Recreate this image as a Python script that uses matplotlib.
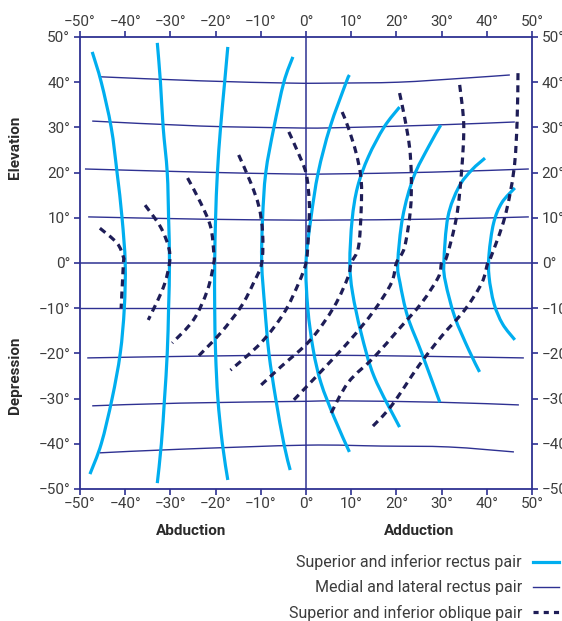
import matplotlib
matplotlib.use("Agg")
import numpy as np
import matplotlib.pyplot as plt
from matplotlib.lines import Line2D
from matplotlib.path import Path
from matplotlib.patches import PathPatch

# superior / inferior rectus pair (x = horizontal gaze, y = vertical gaze, degrees)
rectus_si = [
    [(-47.3, 46.7), (-45.3, 40), (-43.1, 30), (-41.8, 20), (-40.7, 10), (-40.0, 0),
     (-40.2, -10), (-41.1, -20), (-42.9, -30), (-45.3, -40), (-47.8, -46.7)],
    [(-32.9, 48.7), (-32.2, 40), (-31.6, 30), (-30.7, 20), (-30.4, 10), (-30.2, 0),
     (-30.4, -10), (-30.7, -20), (-31.3, -30), (-32.0, -40), (-32.9, -48.7)],
    [(-17.3, 47.8), (-18.0, 40), (-18.9, 30), (-19.6, 20), (-20.0, 10), (-20.2, 0),
     (-20.2, -10), (-20.0, -20), (-19.5, -30), (-18.5, -40), (-17.3, -48.0)],
    [(-2.9, 45.6), (-4.9, 40), (-7.1, 30), (-8.9, 20), (-9.6, 10), (-9.8, 0),
     (-9.1, -10), (-8.2, -20), (-6.7, -30), (-4.9, -40), (-3.5, -45.8)],
    [(9.6, 41.6), (8.9, 40), (5.3, 30), (2.7, 20), (1.1, 10), (0.0, 0),
     (0.4, -10), (1.6, -19.2), (3.3, -26.5), (6.2, -34.1), (9.6, -41.8)],
    [(20.7, 34.5), (17.3, 30.1), (13.8, 23.5), (11.4, 16.8), (10.2, 9.5), (9.7, 0),
     (10.3, -6.6), (12.2, -15.5), (15.1, -25.2), (20.7, -36.3)],
    [(29.8, 30.5), (27.1, 25.7), (23.8, 19.0), (21.4, 10.2), (20.3, 0),
     (20.8, -4.4), (22.5, -11.9), (25.6, -19.9), (29.6, -30.8)],
    [(39.6, 23.2), (36.7, 20.6), (33.8, 16.8), (31.4, 10.2), (30.5, 0),
     (30.9, -4.4), (32.9, -11.9), (36.0, -19.2), (38.4, -24.1)],
    [(46.2, 16.6), (43.3, 13.3), (41.5, 8.8), (40.5, 2.0), (40.5, -3.0),
     (41.6, -9.0), (43.5, -13.5), (46.2, -17.0)],
]

# medial / lateral rectus pair
rectus_ml = [
    [(-45.6, 41.2), (-23.3, 40.3), (-3.3, 39.8), (5.6, 39.8), (20.4, 40.0), (35.1, 40.9), (45.1, 41.6)],
    [(-47.3, 31.4), (-23.3, 30.3), (-3.3, 29.9), (5.6, 29.9), (27.8, 30.5), (46.2, 31.2)],
    [(-48.9, 20.8), (-23.3, 20.1), (-3.3, 19.7), (5.6, 19.7), (27.8, 20.1), (49.3, 20.8)],
    [(-48.2, 10.2), (-23.3, 9.7), (-3.3, 9.5), (5.6, 9.5), (27.8, 9.7), (49.3, 10.2)],
    [(-50, -10), (50, -10)],
    [(-48.4, -21.0), (-23.3, -20.6), (0.0, -20.4), (23.0, -20.6), (48.2, -21.0)],
    [(-47.3, -31.6), (-27.8, -31.0), (0.0, -30.6), (7.8, -30.5), (29.3, -30.8), (47.1, -31.4)],
    [(-45.6, -42.0), (-27.8, -41.2), (0.0, -40.3), (16.7, -40.5), (31.6, -40.7), (46.0, -41.8)],
]

# superior / inferior oblique pair
oblique_si = [
    [(-45.6, 7.7), (-41.8, 4.4), (-40.4, 1.3), (-40.4, 0), (-40.7, -6.0), (-40.9, -10.0)],
    [(-35.6, 12.8), (-32.2, 8.0), (-30.4, 3.5), (-30.2, 0), (-31.6, -5.5), (-34.9, -12.6)],
    [(-26.2, 18.8), (-23.3, 13.3), (-21.1, 8.0), (-20.4, 2.2), (-20.4, 0),
     (-21.8, -6.0), (-24.9, -12.6), (-29.6, -17.7)],
    [(-14.9, 23.9), (-12.2, 17.7), (-10.4, 12.4), (-9.6, 6.6), (-9.8, 0),
     (-11.6, -4.4), (-14.4, -9.7), (-18.9, -15.5), (-23.8, -20.6)],
    [(-3.8, 29.0), (-2.0, 25.0), (0.0, 19.9), (0.7, 13.9), (0.7, 9.5), (0.4, 4.0), (0.0, 0),
     (-1.6, -4.4), (-4.9, -11.1), (-10.0, -17.7), (-16.7, -23.7)],
    [(8.0, 33.4), (9.3, 30.1), (11.1, 24.3), (12.2, 18.4), (12.2, 11.7), (11.6, 3.5), (10.0, 0),
     (9.3, -3.1), (6.2, -9.7), (1.0, -17.0), (-5.6, -23.0), (-10.7, -27.7)],
    [(20.7, 37.6), (21.8, 32.3), (22.9, 25.7), (23.3, 19.0), (23.1, 11.7), (21.8, 3.5), (20.0, 0),
     (18.9, -4.4), (15.0, -10.6), (9.8, -17.0), (3.8, -23.5), (-2.7, -30.3)],
    [(34.0, 39.4), (34.9, 30.5), (34.4, 20.1), (33.3, 10.2), (31.1, 1.3), (30.0, 0),
     (29.3, -3.1), (25.6, -8.8), (20.4, -14.8), (15.1, -20.8), (9.3, -26.5), (5.1, -34.1)],
    [(46.9, 42.0), (46.7, 31.2), (46.0, 20.6), (44.0, 10.2), (40.9, 1.3), (40.2, 0),
     (38.9, -4.4), (35.1, -10.4), (30.0, -16.2), (24.9, -22.8), (18.9, -31.6), (14.4, -36.5)],
]

ticks = [-50, -40, -30, -20, -10, 0, 10, 20, 30, 40, 50]
tick_labels = [("\u2212%d°" % -t) if t < 0 else "%d°" % t for t in ticks]

legend_labels = ["Superior and inferior rectus pair",
                 "Medial and lateral rectus pair",
                 "Superior and inferior oblique pair"]

CYAN = "#00aeef"
NAVY = "#2e3192"
DARK = "#1e1d57"
TEXT = "#3c3c3c"
LABEL = "#2a2a2a"


def smooth_path(points):
    # cubic bezier through every point (catmull-rom tangents)
    p = np.asarray(points, dtype=float)
    if len(p) < 3:
        return Path(p)
    verts = [p[0]]
    codes = [Path.MOVETO]
    for i in range(len(p) - 1):
        p0 = p[i - 1] if i > 0 else p[i]
        p3 = p[i + 2] if i + 2 < len(p) else p[i + 1]
        c1 = p[i] + (p[i + 1] - p0) / 6.0
        c2 = p[i + 1] - (p3 - p[i]) / 6.0
        verts += [c1, c2, p[i + 1]]
        codes += [Path.CURVE4] * 3
    return Path(verts, codes)


def draw_curve(ax, points, **kw):
    patch = PathPatch(smooth_path(points), fill=False, **kw)
    ax.add_patch(patch)


plt.rcParams["font.family"] = ["Roboto", "DejaVu Sans"]

fig = plt.figure(figsize=(5.62, 6.21), dpi=100)
ax = fig.add_axes([80 / 562, 1 - 489 / 621, 452 / 562, 452 / 621])

for line in rectus_si:
    draw_curve(ax, line, edgecolor=CYAN, lw=2.3, capstyle="butt", zorder=3)

for line in rectus_ml:
    draw_curve(ax, line, edgecolor=NAVY, lw=1.0, zorder=2)

for line in oblique_si:
    draw_curve(ax, line, edgecolor=DARK, lw=2.3, linestyle=(0, (2.2, 1.6)), zorder=4)

ax.axhline(0, color=NAVY, lw=1.1, zorder=1)
ax.axvline(0, color=NAVY, lw=1.1, zorder=1)

ax.set_xlim(-50, 50)
ax.set_ylim(-50, 50)
ax.set_xticks(ticks)
ax.set_yticks(ticks)
ax.set_xticklabels(tick_labels)
ax.set_yticklabels(tick_labels)
for side in ["left", "right", "top", "bottom"]:
    ax.spines[side].set_color(NAVY)
    ax.spines[side].set_linewidth(1.3)
ax.tick_params(axis="both", which="both", direction="out", length=4, width=1.2,
               color=NAVY, labelcolor=TEXT, labelsize=11, pad=3,
               top=True, right=True, labeltop=True, labelright=True)
ax.tick_params(axis="x", pad=2)

fig.text(15 / 562, 1 - 147 / 621, "Elevation", rotation=90, ha="center", va="center",
         fontsize=11, fontweight="bold", color=LABEL)
fig.text(15 / 562, 1 - 375 / 621, "Depression", rotation=90, ha="center", va="center",
         fontsize=11, fontweight="bold", color=LABEL)
fig.text(191 / 562, 1 - 531 / 621, "Abduction", ha="center", va="center",
         fontsize=11, fontweight="bold", color=LABEL)
fig.text(419 / 562, 1 - 531 / 621, "Adduction", ha="center", va="center",
         fontsize=11, fontweight="bold", color=LABEL)

handles = [Line2D([], [], color=CYAN, lw=2.3),
           Line2D([], [], color=NAVY, lw=1.0),
           Line2D([], [], color=DARK, lw=2.3, dashes=(1.6, 1.6))]
fig.legend(handles, legend_labels, loc="upper right", bbox_to_anchor=(1.0, 1 - 551 / 621),
           frameon=False, markerfirst=False, fontsize=11.5, labelcolor=TEXT,
           handlelength=1.6, handletextpad=0.7, labelspacing=0.62, borderaxespad=0.0,
           borderpad=0.2)

fig.savefig("out.png", dpi=100)
